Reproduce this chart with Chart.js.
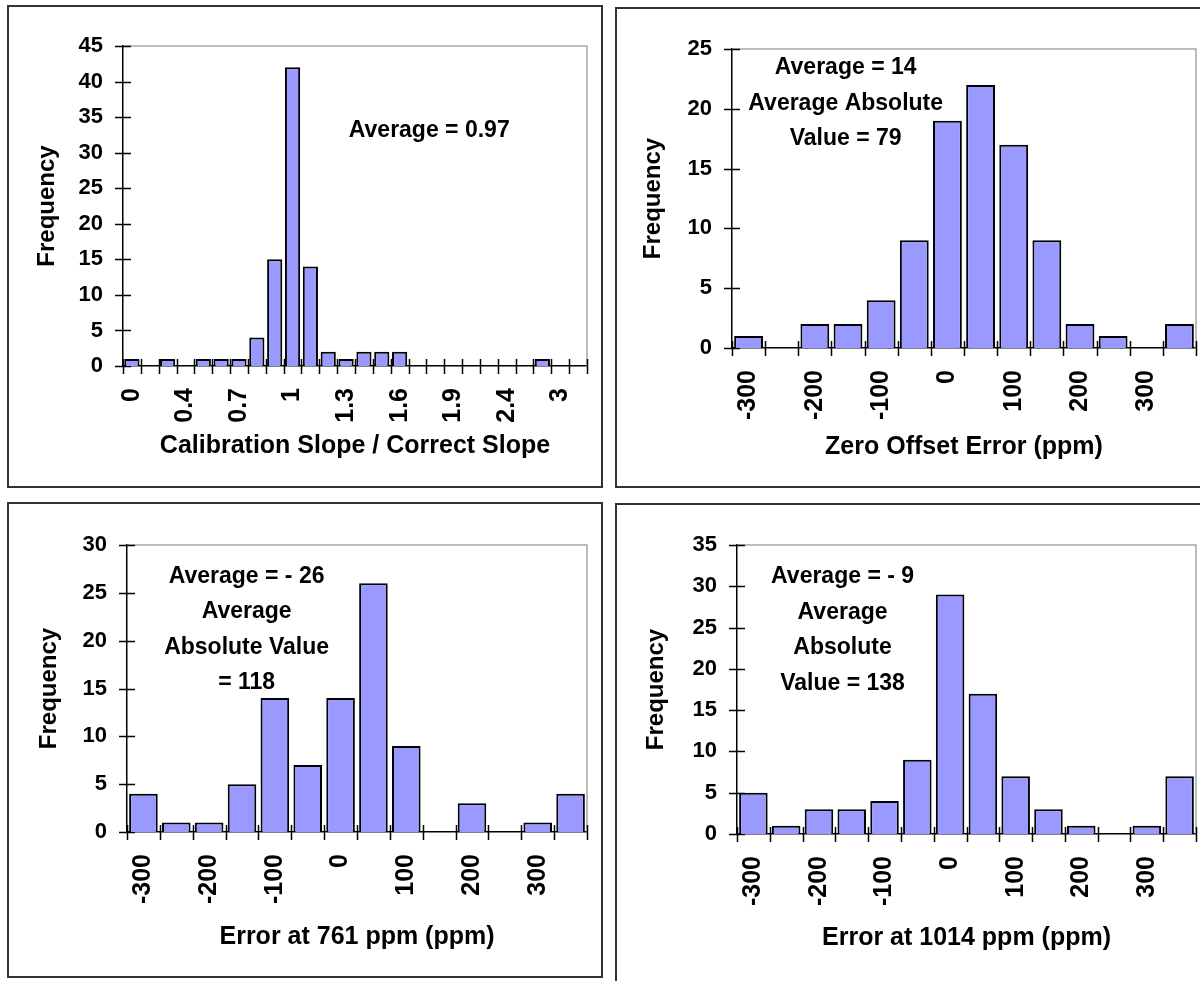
<!DOCTYPE html>
<html>
<head>
<meta charset="utf-8">
<script src="https://cdn.jsdelivr.net/npm/chart.js@4.4.1/dist/chart.umd.min.js"></script>
<style>
  body { margin: 0; width: 1200px; height: 981px; overflow: hidden; background: #fff; position: relative; }
  .frame { position: absolute; border: 2px solid #333; box-sizing: border-box; pointer-events: none; }
  canvas { position: absolute; }
</style>
</head>
<body>
<script>
// histogram bins (labels shown under the axis, blanks are unlabelled bins)
const slopeLabels = ["0","","","0.4","","","0.7","","","1","","","1.3","","","1.6","","","1.9","","","2.4","","","3",""];
const slopeCounts = [1,0,1,0,1,1,1,4,15,42,14,2,1,2,2,2,0,0,0,0,0,0,0,1,0,0];

const ppmLabels = ["-300","","-200","","-100","","0","","100","","200","","300",""];
const offsetCounts = [1,0,2,2,4,9,19,22,17,9,2,1,0,2];
const err761Counts = [4,1,1,5,14,7,14,26,9,0,3,0,1,4];
const err1014Counts = [5,1,3,3,4,9,29,17,7,3,1,0,1,7];

const FONT = "'Liberation Sans', Arial, sans-serif";
const TITLE_SIZE = 25;
const HALF_TITLE = TITLE_SIZE * 1.2 / 2;

// page layout for the four panels: box = [x, y, w, h], area = [left, top, right, bottom]
const panels = [
  { labels: slopeLabels, counts: slopeCounts, yMax: 45, xTitle: "Calibration Slope / Correct Slope",
    note: ["Average = 0.97"], box: [7, 5, 596, 483], area: [123, 46, 587, 366],
    yTitleX: 48, xTitleY: 446, noteAt: [0.66, 0.265], bar: 0.85 },
  { labels: ppmLabels, counts: offsetCounts, yMax: 25, xTitle: "Zero Offset Error (ppm)",
    note: ["Average = 14", "Average Absolute", "Value = 79"], box: [615, 7, 600, 481], area: [732, 49, 1196, 348],
    yTitleX: 654, xTitleY: 447, noteAt: [0.245, 0.064], bar: 0.87 },
  { labels: ppmLabels, counts: err761Counts, yMax: 30, xTitle: "Error at 761 ppm (ppm)",
    note: ["Average = - 26", "Average", "Absolute Value", "= 118"], box: [7, 502, 596, 476], area: [127, 545, 587, 832],
    yTitleX: 50, xTitleY: 937, noteAt: [0.26, 0.11], bar: 0.87 },
  { labels: ppmLabels, counts: err1014Counts, yMax: 35, xTitle: "Error at 1014 ppm (ppm)",
    note: ["Average = - 9", "Average", "Absolute", "Value = 138"], box: [615, 503, 600, 483], area: [737, 545, 1196, 834],
    yTitleX: 657, xTitleY: 938, noteAt: [0.23, 0.11], bar: 0.87 }
];

// grey frame on top/right, tick marks crossing both axes, and the text note
const excelLook = {
  id: 'excelLook',
  beforeDatasetsDraw(chart) {
    const { ctx, chartArea: a, scales: { x, y } } = chart;
    ctx.save();
    ctx.strokeStyle = '#a6a6a6';
    ctx.lineWidth = 1.5;
    ctx.beginPath();
    ctx.moveTo(a.left, a.top);
    ctx.lineTo(a.right, a.top);
    ctx.lineTo(a.right, a.bottom);
    ctx.stroke();

    ctx.strokeStyle = '#000';
    ctx.beginPath();
    y.ticks.forEach((t, i) => {
      const py = Math.round(y.getPixelForTick(i)) + 0.5;
      ctx.moveTo(a.left - 8, py);
      ctx.lineTo(a.left + 8, py);
    });
    for (let i = 0; i <= x.ticks.length; i++) {
      const px = Math.round(x.getPixelForValue(i - 0.5)) + 0.5;
      ctx.moveTo(px, a.bottom - 7);
      ctx.lineTo(px, a.bottom + 8);
    }
    ctx.stroke();
    ctx.restore();
  },
  afterDraw(chart, args, opts) {
    const { ctx, chartArea: a } = chart;
    ctx.save();
    ctx.font = "bold 23px " + FONT;
    ctx.fillStyle = '#000';
    ctx.textAlign = 'center';
    ctx.textBaseline = 'middle';
    const cx = a.left + opts.at[0] * (a.right - a.left);
    const cy = a.top + opts.at[1] * (a.bottom - a.top);
    opts.lines.forEach((line, i) => ctx.fillText(line, cx, cy + i * 35.5));
    ctx.restore();
  }
};

panels.forEach(p => {
  const [bx, by, bw, bh] = p.box;
  const [al, at, ar, ab] = p.area;
  const canvas = document.createElement('canvas');
  canvas.width = bw; canvas.height = bh;
  canvas.style.left = bx + 'px'; canvas.style.top = by + 'px';
  document.body.appendChild(canvas);
  const frame = document.createElement('div');
  frame.className = 'frame';
  Object.assign(frame.style, { left: bx + 'px', top: by + 'px', width: bw + 'px', height: bh + 'px' });
  document.body.appendChild(frame);

  const padLeft = p.yTitleX - bx - HALF_TITLE;
  const yWidth = al - bx - padLeft;
  const xHeight = p.xTitleY + HALF_TITLE - ab;
  const padBottom = by + bh - (p.xTitleY + HALF_TITLE);

  new Chart(canvas.getContext('2d'), {
    type: 'bar',
    data: {
      labels: p.labels,
      datasets: [{
        data: p.counts,
        backgroundColor: '#9999ff',
        borderColor: '#000',
        borderWidth: 2,
        barPercentage: p.bar,
        categoryPercentage: 1
      }]
    },
    options: {
      responsive: false,
      animation: false,
      devicePixelRatio: 1,
      layout: {
        padding: { left: padLeft, top: at - by, right: bx + bw - ar, bottom: padBottom }
      },
      scales: {
        x: {
          grid: { display: false, drawTicks: false },
          border: { display: true, color: '#000', width: 1.5 },
          ticks: {
            autoSkip: false, minRotation: 90, maxRotation: 90, padding: 22,
            color: '#000', font: { family: FONT, size: 25, weight: 'bold' }
          },
          title: {
            display: true, text: p.xTitle, color: '#000', padding: 0,
            font: { family: FONT, size: TITLE_SIZE, weight: 'bold' }
          },
          afterFit: s => { s.height = xHeight; s.paddingLeft = 0; s.paddingRight = 0; }
        },
        y: {
          min: 0, max: p.yMax,
          grid: { display: false, drawTicks: false },
          border: { display: true, color: '#000', width: 1.5 },
          ticks: {
            stepSize: 5, padding: 20,
            color: '#000', font: { family: FONT, size: 22, weight: 'bold' }
          },
          title: {
            display: true, text: 'Frequency', color: '#000', padding: 0,
            font: { family: FONT, size: 24, weight: 'bold' }
          },
          afterFit: s => { s.width = yWidth; s.paddingTop = 0; s.paddingBottom = 0; }
        }
      },
      plugins: {
        legend: { display: false },
        tooltip: { enabled: false },
        excelLook: { lines: p.note, at: p.noteAt }
      }
    },
    plugins: [excelLook]
  });
});
</script>
</body>
</html>
